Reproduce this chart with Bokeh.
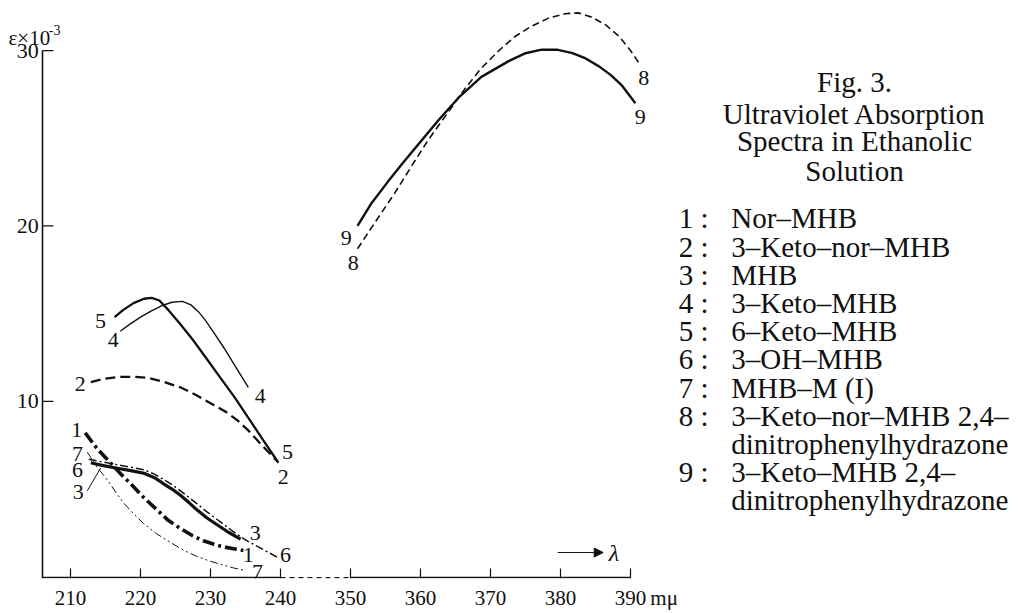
from bokeh.plotting import figure
from bokeh.models import FixedTicker, Arrow, NormalHead
from bokeh.core.properties import value
from bokeh.embed import file_html
from bokeh.resources import INLINE

# ---------------- data ----------------
X_TICKS = [210, 220, 230, 240, 350, 360, 370, 380, 390]
X_UNIT = "mμ"
Y_TICKS = [10, 20, 30]
BREAK_LO, BREAK_HI = 240, 350     # broken wavelength axis
SHIFT = 100                       # 350 is drawn 10 units after 240

c1_x = [212.1, 213.8, 215.7, 217.2, 218.6, 220.5, 222.4, 224.0, 225.7, 227.4, 229.0, 230.5, 231.9, 233.3, 234.7]
c1_y = [8.2, 7.3, 6.5, 5.85, 5.3, 4.5, 3.8, 3.2, 2.75, 2.35, 2.05, 1.85, 1.7, 1.6, 1.5]

c2_x = [212.9, 215.0, 217.0, 219.0, 221.0, 223.0, 225.7, 228.0, 230.4, 232.2, 233.9, 235.5, 237.1, 238.3, 239.5]
c2_y = [11.1, 11.3, 11.4, 11.4, 11.35, 11.15, 10.8, 10.35, 9.8, 9.4, 8.9, 8.3, 7.6, 7.1, 6.6]

c3_x = [212.9, 214.5, 216.5, 218.6, 220.5, 222.0, 223.3, 224.5, 225.7, 227.0, 228.1, 229.5, 231.0, 232.5, 234.3]
c3_y = [6.5, 6.35, 6.2, 6.05, 5.9, 5.65, 5.3, 5.0, 4.65, 4.2, 3.8, 3.35, 2.95, 2.55, 2.15]

c4_x = [217.1, 218.5, 220.0, 221.5, 223.0, 224.5, 226.0, 227.2, 228.3, 229.3, 230.5, 232.0, 233.7, 235.4]
c4_y = [14.0, 14.4, 14.8, 15.15, 15.45, 15.65, 15.7, 15.5, 15.1, 14.6, 13.9, 13.0, 11.9, 10.8]

c5_x = [216.3, 217.5, 219.0, 220.5, 221.6, 222.7, 224.0, 225.7, 227.5, 229.5, 231.5, 233.5, 235.5, 237.5, 239.7]
c5_y = [14.8, 15.2, 15.6, 15.85, 15.9, 15.75, 15.2, 14.4, 13.5, 12.4, 11.3, 10.2, 9.0, 7.8, 6.5]

c6_x = [212.6, 214.5, 216.5, 218.6, 220.5, 222.0, 223.3, 224.5, 225.7, 227.0, 228.1, 229.5, 231.0, 233.0, 235.0, 237.3, 239.6]
c6_y = [6.7, 6.55, 6.4, 6.25, 6.1, 5.85, 5.55, 5.25, 4.9, 4.5, 4.15, 3.7, 3.25, 2.65, 2.1, 1.6, 1.1]

c7_x = [212.4, 213.8, 215.3, 216.5, 217.6, 219.0, 220.4, 222.3, 224.3, 226.2, 228.1, 230.0, 231.9, 233.3, 234.7]
c7_y = [7.1, 6.25, 5.5, 4.8, 4.2, 3.6, 3.05, 2.45, 1.95, 1.5, 1.15, 0.88, 0.66, 0.5, 0.38]

c8_x = [351.0, 353.5, 356.2, 358.7, 361.1, 363.8, 366.3, 368.7, 371.2, 373.5, 375.9, 378.3, 380.6, 382.5, 384.5, 386.5, 388.4, 390.0, 391.2]
c8_y = [18.7, 20.2, 21.8, 23.4, 24.9, 26.4, 27.8, 29.0, 30.0, 30.8, 31.4, 31.85, 32.1, 32.15, 31.9, 31.45, 30.8, 30.0, 29.3]

c9_x = [351.0, 353.0, 355.3, 357.5, 360.0, 362.5, 365.4, 368.7, 372.6, 375.0, 377.3, 379.5, 381.7, 383.6, 385.5, 387.2, 388.8, 390.7]
c9_y = [20.0, 21.3, 22.5, 23.6, 24.8, 26.0, 27.3, 28.5, 29.4, 29.85, 30.05, 30.05, 29.85, 29.55, 29.1, 28.6, 28.0, 27.0]

# curve number labels (text, wavelength, epsilon)
curve_label_text = ["1", "7", "6", "3", "5", "4", "2", "4", "5", "2", "3", "1", "6", "7", "9", "8", "8", "9"]
curve_label_x = [210.9, 211.0, 211.0, 211.1, 214.3, 216.1, 211.4, 237.1, 241.0, 240.4, 236.4, 235.4, 240.7, 236.7, 349.4, 350.4, 391.9, 391.4]
curve_label_y = [8.35, 6.98, 6.07, 4.81, 14.6, 13.5, 11.0, 10.3, 7.1, 5.67, 2.5, 1.22, 1.22, 0.26, 19.3, 17.9, 28.45, 26.2]

title_lines = ["Fig. 3.", "Ultraviolet Absorption", "Spectra in Ethanolic", "Solution"]
legend_nums = ["1 :", "2 :", "3 :", "4 :", "5 :", "6 :", "7 :", "8 :", "9 :"]
legend_names = ["Nor–MHB", "3–Keto–nor–MHB", "MHB", "3–Keto–MHB", "6–Keto–MHB",
                "3–OH–MHB", "MHB–M (I)", "3–Keto–nor–MHB 2,4–", "3–Keto–MHB 2,4–"]
legend_cont = {7: "dinitrophenylhydrazone", 8: "dinitrophenylhydrazone"}

# ---------------- helpers ----------------
MID = (BREAK_LO + BREAK_HI) / 2


def bx(vals):
    return [v - SHIFT if v > MID else v for v in vals]


SANS = "Liberation Sans Narrow"
SERIF = "Liberation Serif"
INK = "#111111"

X0, X1 = 200.0, 345.714
Y0, Y1 = -0.1, 32.855
AXIS_X = 206.0

p = figure(width=1020, height=613, x_range=(X0, X1), y_range=(Y0, Y1),
           output_backend="svg", toolbar_location=None, y_axis_location=None,
           min_border_left=0, min_border_right=0, min_border_top=0, min_border_bottom=35)
p.outline_line_color = None
p.grid.visible = False
p.background_fill_color = "white"
p.border_fill_color = "white"

# x axis (library axis for the labels; ticks drawn below so the unit label has no tick)
tick_pos = bx(X_TICKS)
unit_pos = tick_pos[-1] + 4.8
p.xaxis.ticker = FixedTicker(ticks=tick_pos + [unit_pos])
overrides = {t: str(l) for t, l in zip(tick_pos, X_TICKS)}
overrides[unit_pos] = X_UNIT
p.xaxis.major_label_overrides = overrides
p.xaxis.axis_line_color = None
p.xaxis.major_tick_line_color = None
p.xaxis.minor_tick_line_color = None
p.xaxis.major_label_text_font = SANS
p.xaxis.major_label_text_font_size = "21px"
p.xaxis.major_label_text_color = INK
p.xaxis.major_label_standoff = 1

TICK_H = 10 / 17.54
TICK_W = 11 / 7.0
AY = Y0 + 0.05
p.segment(tick_pos, [Y0] * len(tick_pos), tick_pos, [Y0 + TICK_H] * len(tick_pos),
          line_color=INK, line_width=1.2)
# x axis line with a dashed break between 240 and 350
p.line([AXIS_X, BREAK_LO], [AY, AY], line_color=INK, line_width=1.5)
p.line([BREAK_LO, BREAK_HI - SHIFT], [AY, AY], line_color=INK, line_width=1.2, line_dash="5 4")
p.line([BREAK_HI - SHIFT, tick_pos[-1]], [AY, AY], line_color=INK, line_width=1.5)

# y axis
p.line([AXIS_X, AXIS_X], [Y0, max(Y_TICKS)], line_color=INK, line_width=1.6)
p.segment([AXIS_X] * len(Y_TICKS), Y_TICKS, [AXIS_X + TICK_W] * len(Y_TICKS), Y_TICKS,
          line_color=INK, line_width=1.2)
p.text([AXIS_X - 0.55] * len(Y_TICKS), Y_TICKS, text=[str(v) for v in Y_TICKS],
       text_font=value(SANS), text_font_size="22px", text_color=INK,
       text_align="right", text_baseline="middle")
p.text([201.14], [30.69], text=["ε×10"], text_font=value(SANS), text_font_size="21px",
       text_color=INK, text_align="left", text_baseline="alphabetic")
p.text([206.9], [31.15], text=["-3"], text_font=value(SANS), text_font_size="14px",
       text_color=INK, text_align="left", text_baseline="alphabetic")

# curves
p.line(bx(c2_x), c2_y, line_color=INK, line_width=2.3, line_dash="10 5")
p.line(bx(c5_x), c5_y, line_color=INK, line_width=2.3)
p.line(bx(c4_x), c4_y, line_color=INK, line_width=1.4)
p.line(bx(c7_x), c7_y, line_color=INK, line_width=1.0, line_dash="8 3 2 3 2 3")
p.line(bx(c6_x), c6_y, line_color=INK, line_width=1.5, line_dash="8 3 2 3")
p.line(bx(c3_x), c3_y, line_color=INK, line_width=3.2)
p.line(bx(c1_x), c1_y, line_color=INK, line_width=3.6, line_dash="12 4 3 4")
p.line(bx(c8_x), c8_y, line_color=INK, line_width=1.6, line_dash="7 4")
p.line(bx(c9_x), c9_y, line_color=INK, line_width=2.4)

# leader line for label "3"
p.line([212.4, 214.3], [4.9, 6.2], line_color=INK, line_width=1.0)

# curve labels
p.text(bx(curve_label_x), curve_label_y, text=curve_label_text,
       text_font=value(SANS), text_font_size="22px", text_color=INK,
       text_align="center", text_baseline="middle")

# lambda arrow
p.add_layout(Arrow(end=NormalHead(size=9, fill_color=INK, line_color=INK),
                   x_start=279.6, y_start=1.38, x_end=286.1, y_end=1.38,
                   line_color=INK, line_width=1.0))
p.text([286.9], [1.38], text=["λ"], text_font=value(SERIF), text_font_style="italic",
       text_font_size="24px", text_color=INK, text_align="left", text_baseline="middle")

# caption block
TITLE_X = 322.0
title_y = [28.18, 26.41, 24.82, 23.16]
FS = "29px"
p.text([TITLE_X] * len(title_lines), title_y, text=title_lines,
       text_font=value(SERIF), text_font_size=FS, text_color=INK,
       text_align="center", text_baseline="middle")

NUM_X, NAME_X = 296.9, 304.4
ROW_TOP, ROW_STEP = 20.43, 1.607
num_y, cont_text, cont_y = [], [], []
r = 0
for i in range(len(legend_names)):
    num_y.append(ROW_TOP - r * ROW_STEP)
    r += 1
    if i in legend_cont:
        cont_text.append(legend_cont[i])
        cont_y.append(ROW_TOP - r * ROW_STEP)
        r += 1
p.text([NUM_X] * len(legend_nums), num_y, text=legend_nums,
       text_font=value(SERIF), text_font_size=FS, text_color=INK,
       text_align="left", text_baseline="middle")
p.text([NAME_X] * len(legend_names), num_y, text=legend_names,
       text_font=value(SERIF), text_font_size=FS, text_color=INK,
       text_align="left", text_baseline="middle")
p.text([NAME_X] * len(cont_text), cont_y, text=cont_text,
       text_font=value(SERIF), text_font_size=FS, text_color=INK,
       text_align="left", text_baseline="middle")

open("out.html", "w").write(file_html(p, INLINE))
